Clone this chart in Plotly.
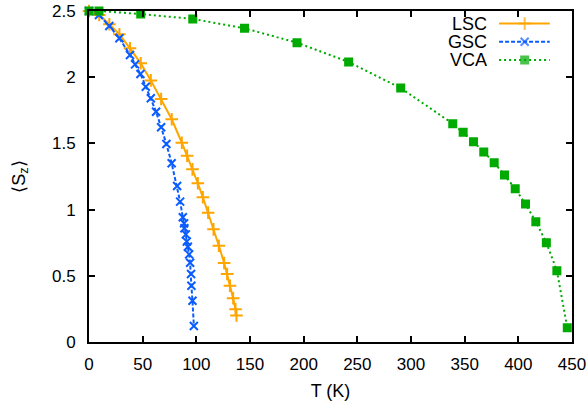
import plotly.graph_objects as go

# ---- data ----
lsc_T = [0, 9.5, 19, 28.3, 38.2, 48.2, 57.6, 67.2, 77.1, 86.5, 91.4, 96.4, 101.4, 106.1,
         111.0, 116.0, 121.0, 125.9, 128.7, 131.3, 134.3, 136.5, 137.4]
lsc_S = [2.5, 2.47, 2.40, 2.324, 2.218, 2.105, 1.976, 1.835, 1.682, 1.505, 1.407, 1.304, 1.199, 1.093,
         0.977, 0.851, 0.727, 0.597, 0.514, 0.425, 0.330, 0.247, 0.200]

gsc_T = [0, 9.3, 18.9, 28.3, 38.2, 42.9, 47.9, 52.9, 57.6, 62.5, 67.2, 72.1, 77.0, 82.1, 84.9,
         87.4, 88.6, 88.9, 90.2, 91.1, 92.1, 93.3, 94.2, 95.1, 95.4, 96.4, 97.7]
gsc_S = [2.5, 2.47, 2.387, 2.294, 2.168, 2.097, 2.024, 1.928, 1.841, 1.739, 1.622, 1.496, 1.350, 1.178, 1.060,
         0.942, 0.896, 0.859, 0.813, 0.758, 0.720, 0.662, 0.599, 0.514, 0.425, 0.312, 0.121]

vca_T = [0, 9.3, 48.2, 96.7, 144.9, 193.8, 241.9, 290.4, 338.9, 348.6, 358.2, 367.8, 377.5, 387.1,
         397.1, 406.7, 416.3, 426.1, 435.9, 445.6]
vca_S = [2.5, 2.5, 2.477, 2.44, 2.369, 2.261, 2.115, 1.918, 1.649, 1.584, 1.513, 1.435, 1.354, 1.261,
         1.158, 1.042, 0.909, 0.750, 0.539, 0.108]

names = ["LSC", "GSC", "VCA"]
colors = ["#ffa500", "#0a5cff", "#00aa00"]
dashes = ["solid", "4px,2px", "2px,3px"]
symbols = ["cross-thin", "x-thin", "square"]
sizes = [9, 8, 7]

x_ticks = list(range(0, 451, 50))
y_ticks = [0, 0.5, 1, 1.5, 2, 2.5]

FONT = "Liberation Sans, Arial, sans-serif"

fig = go.Figure()
series = [(lsc_T, lsc_S), (gsc_T, gsc_S), (vca_T, vca_S)]
for (xs, ys), n, c, d, s, sz in zip(series, names, colors, dashes, symbols, sizes):
    mk = dict(symbol=s, size=sz, color=c, line=dict(color=c, width=2))
    fig.add_trace(go.Scatter(x=xs, y=ys, mode="lines+markers", name=n,
                             line=dict(color=c, width=2, dash=d),
                             marker=mk, cliponaxis=False, showlegend=False))

# ---- manual legend (text at left, sample at right, like gnuplot) ----
leg_y = [0.962, 0.907, 0.852]
for n, c, d, s, sz, yy in zip(names, colors, dashes, symbols, sizes, leg_y):
    fig.add_trace(go.Scatter(x=[0.849, 0.902, 0.954], y=[yy, yy, yy], mode="lines+markers",
                             xaxis="x2", yaxis="y2", showlegend=False, hoverinfo="skip",
                             line=dict(color=c, width=2, dash=d),
                             marker=dict(symbol=s, size=[0, sz, 0], color=c,
                                         line=dict(color=c, width=2)),
                             cliponaxis=False))
    fig.add_annotation(text=n, xref="paper", yref="paper", x=0.826, y=yy,
                       xanchor="right", yanchor="middle", showarrow=False,
                       height=16, valign="middle", borderpad=0,
                       font=dict(family=FONT, size=18, color="black"))

axis_common = dict(showline=True, linecolor="black", linewidth=2, mirror="ticks",
                   ticks="inside", ticklen=6, tickwidth=1.5, tickcolor="black",
                   showgrid=False, zeroline=False, automargin=False,
                   tickfont=dict(family=FONT, size=17, color="black"))

fig.update_layout(
    width=587, height=403,
    margin=dict(l=89, r=15, t=11, b=61),
    paper_bgcolor="white", plot_bgcolor="white",
    font=dict(family=FONT, size=17, color="black"),
    xaxis=dict(range=[0, 450], tickvals=x_ticks, ticklabelstandoff=6,
               title=dict(text="T (K)", font=dict(family=FONT, size=18), standoff=11),
               **axis_common),
    yaxis=dict(range=[0, 2.5], tickvals=y_ticks, ticktext=[f"{v:g}" for v in y_ticks],
               ticklabelstandoff=8,
               title=dict(text="⟨S<sub>z</sub>⟩", font=dict(family=FONT, size=18), standoff=22),
               **axis_common),
    xaxis2=dict(overlaying="x", range=[0, 1], visible=False),
    yaxis2=dict(overlaying="y", range=[0, 1], visible=False),
)

fig.write_html("out.html")
